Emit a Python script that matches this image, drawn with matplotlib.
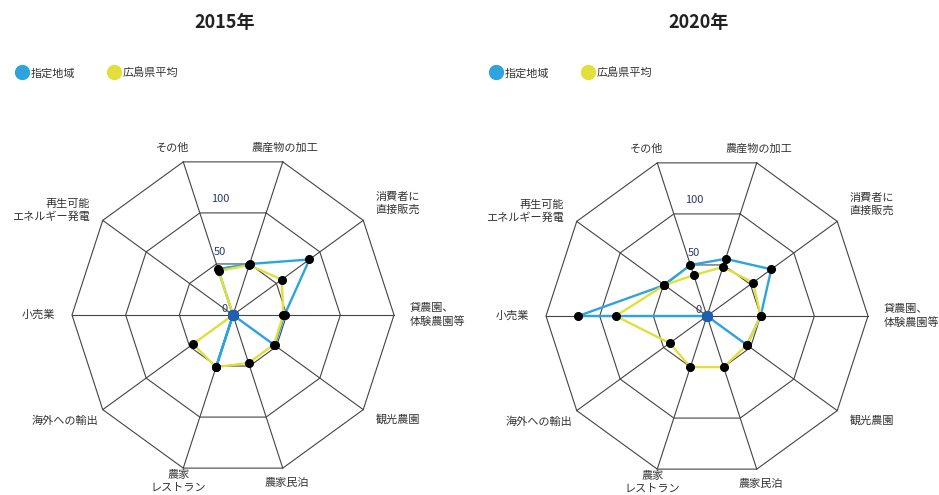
import matplotlib.pyplot as plt
import numpy as np
from matplotlib.lines import Line2D

plt.rcParams['font.family'] = ['Noto Sans CJK JP', 'DejaVu Sans']

categories = ['農産物の加工', '消費者に\n直接販売', '貸農園、\n体験農園等', '観光農園', '農家民泊',
              '農家\nレストラン', '海外への輸出', '小売業', '再生可能\nエネルギー発電', 'その他']
series_names = ['指定地域', '広島県平均']
years = ['2015年', '2020年']

area_2015 = [50, 88, 48, 48, 0, 51, 0, 0, 0, 45]
pref_2015 = [49, 56, 47, 47, 47, 51, 46, 0, 0, 43]
area_2020 = [56, 74, 50, 46, 0, 0, 0, 120, 49, 50]
pref_2020 = [48, 53, 50, 46, 50, 50, 43, 85, 49, 40]

rings = [50, 100, 150]
ring_labels = ['0', '50', '100']

BLUE = '#2ea3dd'
YELLOW = '#e2df3c'
GRID = '#444444'
TXT = '#333333'

# label offsets in pixels from each outer vertex: dx, dy, ha
label_pos = [(2, 14, 'center'), (12, 17, 'left'), (16, 0, 'left'), (12, -10, 'left'),
             (4, -15, 'center'), (-5, -13, 'center'), (-4, -11, 'right'), (-17, 0, 'right'),
             (-13, 10, 'right'), (-11, 14, 'center')]

W, H = 939, 495
R = 161
fig = plt.figure(figsize=(W / 100, H / 100), dpi=100)

angles = np.deg2rad(18 + 36 * np.arange(len(categories)))
closed = np.append(angles, angles[0])


def radar(cx, cy, title, area, pref):
    ax = fig.add_axes([(cx - R) / W, (H - cy - R) / H, 2 * R / W, 2 * R / H], projection='polar')
    ax.set_theta_zero_location('N')
    ax.set_theta_direction(-1)
    ax.set_ylim(0, 150)
    ax.set_axis_off()

    for r in rings:
        ax.plot(closed, [r] * len(closed), color=GRID, lw=0.8, clip_on=False)
    for a in angles:
        ax.plot([a, a], [0, 150], color=GRID, lw=0.8, clip_on=False)

    for vals, col, z in [(area, BLUE, 3), (pref, YELLOW, 4)]:
        v = np.array(vals, dtype=float)
        ax.plot(closed, np.append(v, v[0]), color=col, lw=1.7, zorder=z, clip_on=False)
    for vals in [area, pref]:
        v = np.array(vals, dtype=float)
        nz = v > 0
        ax.plot(angles[nz], v[nz], 'o', color='black', ms=5.5, zorder=6, clip_on=False)
        ax.plot(angles[~nz], v[~nz], 'o', color='#1f5fb0', ms=7, zorder=7, clip_on=False)

    for lab, r in zip(ring_labels, [0] + rings[:-1]):
        dx, dy = (-8, 6) if r == 0 else (-13, 9)
        ax.annotate(lab, (0, r), xytext=(dx, dy), textcoords='offset pixels',
                    ha='center', va='center', fontsize=8, color='#2b3a67', zorder=5)

    for a, lab, (dx, dy, ha) in zip(angles, categories, label_pos):
        ax.annotate(lab, (a, 150), xytext=(dx, dy), textcoords='offset pixels',
                    ha=ha, va='center', multialignment=ha, fontsize=8, color=TXT,
                    linespacing=1.3, annotation_clip=False)

    fig.text((cx - 8) / W, 1 - 22 / H, title, ha='center', va='center',
             fontsize=13, fontweight='bold', color='#222222')

    handles = [Line2D([], [], marker='o', ls='', color=BLUE, ms=10),
               Line2D([], [], marker='o', ls='', color=YELLOW, ms=10)]
    fig.legend(handles, series_names, loc='center left',
               bbox_to_anchor=((cx - 233 + 5) / W, 1 - 73 / H), ncol=2, frameon=False,
               fontsize=8, handletextpad=0.2, columnspacing=2.9, handlelength=1.2,
               labelcolor=TXT)


radar(233, 315, years[0], area_2015, pref_2015)
radar(707, 316, years[1], area_2020, pref_2020)

fig.savefig('out.png', dpi=100)
